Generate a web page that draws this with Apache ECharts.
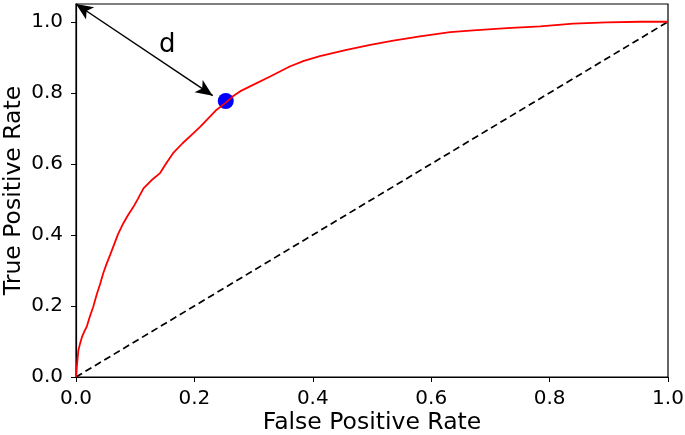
<!DOCTYPE html>
<html><head><meta charset="utf-8">
<script src="https://cdn.jsdelivr.net/npm/echarts@6/dist/echarts.min.js"></script>
<style>html,body{margin:0;padding:0;background:#fff}#c{width:685px;height:435px}</style>
</head><body><div id="c"></div>
<script>
const fpr = [0, 0.001, 0.002, 0.004, 0.007, 0.010, 0.014, 0.018, 0.023, 0.029, 0.035, 0.041, 0.046, 0.052, 0.058, 0.063, 0.071, 0.080, 0.088, 0.097, 0.105, 0.114, 0.127, 0.142, 0.153, 0.164, 0.180, 0.198, 0.210, 0.221, 0.236, 0.252, 0.265, 0.277, 0.300, 0.328, 0.361, 0.385, 0.412, 0.457, 0.497, 0.536, 0.581, 0.632, 0.671, 0.728, 0.784, 0.840, 0.896, 0.953, 1.0];
const tpr = [0, 0.020, 0.040, 0.075, 0.095, 0.112, 0.128, 0.141, 0.168, 0.197, 0.232, 0.263, 0.292, 0.320, 0.345, 0.367, 0.402, 0.433, 0.456, 0.479, 0.503, 0.531, 0.553, 0.574, 0.603, 0.630, 0.658, 0.686, 0.705, 0.724, 0.750, 0.771, 0.790, 0.804, 0.823, 0.846, 0.874, 0.890, 0.903, 0.921, 0.935, 0.947, 0.959, 0.971, 0.976, 0.982, 0.987, 0.995, 0.998, 1.0, 1.0];
const chance = [[0, 0], [1, 1]];
const optimal = [0.253, 0.777];
const arrowStart = [0, 1.05];
const arrowEnd = [0.231, 0.792];
const distLabel = 'd';
const distLabelPos = [0.154, 0.935];
const ticks = [0, 0.2, 0.4, 0.6, 0.8, 1.0];
const xTitle = 'False Positive Rate';
const yTitle = 'True Positive Rate';

const font = 'DejaVu Sans';
const chart = echarts.init(document.getElementById('c'), null, {renderer: 'canvas'});
const fmt = v => v.toFixed(1);
chart.setOption({
  animation: false,
  grid: {left: 76, right: 17, top: 4, bottom: 58, show: true, borderColor: '#000', borderWidth: 1.2, containLabel: false, outerBoundsMode: 'none'},
  xAxis: {
    type: 'value', min: 0, max: 1, interval: 0.2,
    name: xTitle, nameLocation: 'middle', nameGap: 34, nameMoveOverlap: false,
    nameTextStyle: {fontFamily: font, fontSize: 23.5, color: '#000'},
    axisLine: {show: true, lineStyle: {color: '#000', width: 1.2}},
    axisTick: {show: true, inside: false, length: 5, lineStyle: {color: '#000'}},
    axisLabel: {fontFamily: font, fontSize: 20, color: '#000', margin: 12, formatter: fmt},
    splitLine: {show: false}
  },
  yAxis: {
    type: 'value', min: 0, max: 1.05,
    name: yTitle, nameLocation: 'middle', nameGap: 50, nameRotate: 90, nameMoveOverlap: false,
    nameTextStyle: {fontFamily: font, fontSize: 23.5, color: '#000'},
    axisLine: {show: true, lineStyle: {color: '#000', width: 1.2}},
    axisTick: {show: true, inside: false, length: 5, lineStyle: {color: '#000'}, customValues: ticks},
    axisLabel: {fontFamily: font, fontSize: 20, color: '#000', margin: 13, formatter: fmt, customValues: ticks},
    splitLine: {show: false}
  },
  series: [
    {
      type: 'line', data: chance, symbol: 'none', silent: true,
      lineStyle: {color: '#000', width: 1.7, type: [7, 4]}
    },
    {
      type: 'scatter', data: [optimal], symbolSize: 16, z: 2,
      itemStyle: {color: '#0000ff', opacity: 1},
      markLine: {
        silent: true, symbol: ['arrow', 'arrow'], symbolSize: [11, 17],
        lineStyle: {color: '#000', width: 1.5, type: 'solid'},
        label: {show: false},
        data: [[{coord: arrowStart}, {coord: arrowEnd}]]
      },
      markPoint: {
        symbol: 'circle', symbolSize: 0,
        label: {show: true, formatter: distLabel, fontFamily: font, fontSize: 26, color: '#000'},
        data: [{coord: distLabelPos}]
      }
    },
    {
      type: 'line', data: fpr.map((x, i) => [x, tpr[i]]), symbol: 'none', z: 3,
      lineStyle: {color: '#ff0000', width: 1.8}
    }
  ]
});
</script></body></html>
